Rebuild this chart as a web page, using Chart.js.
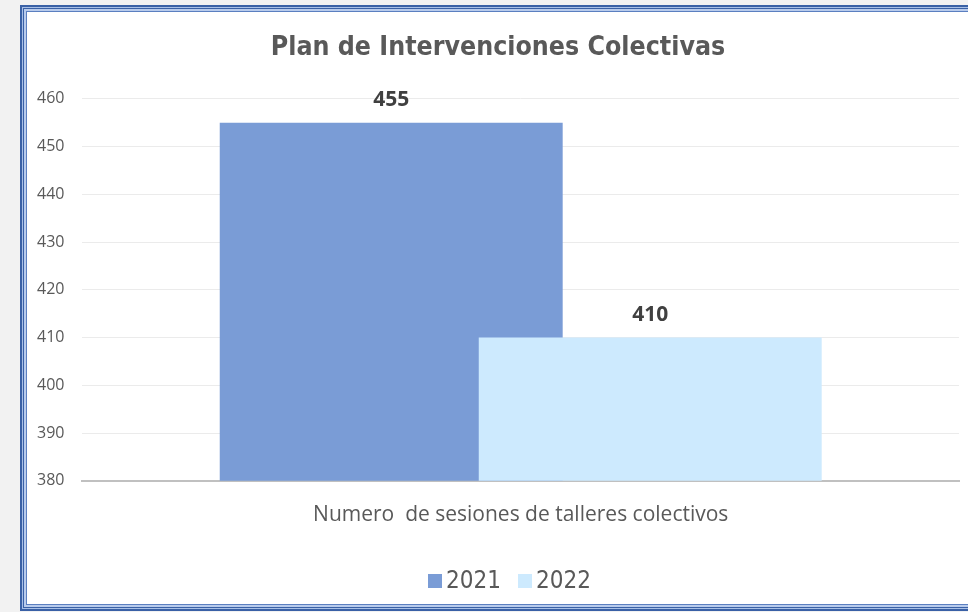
<!DOCTYPE html>
<html>
<head>
<meta charset="utf-8">
<script src="https://cdn.jsdelivr.net/npm/chart.js@4/dist/chart.umd.min.js"></script>
<style>
  html, body { margin: 0; padding: 0; background: #f2f2f2; }
  #wrap { position: relative; width: 968px; height: 612px; overflow: hidden; }
  #frame {
    position: absolute; left: 20px; top: 5px; width: 980px; height: 602px;
    background: #fff;
    border: 2px solid #3a61a6;
    box-shadow: inset 0 0 0 1px #a9c0e6, inset 0 0 0 2px #3a61a6,
                inset 0 0 0 4px #b8cbec, inset 0 0 0 5px #5b7fc0;
  }
  #chart { position: absolute; left: 0; top: 0; }
  #legend {
    position: absolute; left: 428px; top: 563px; height: 34px;
    display: flex; align-items: center;
    font-family: 'Liberation Sans Narrow', 'Arial Narrow', 'DejaVu Sans Condensed', sans-serif;
    font-size: 24px; color: #595959;
  }
  #legend .item { display: flex; align-items: center; margin-right: 17px; }
  #legend .box { width: 14px; height: 14px; margin-right: 4px; margin-top: 2px; }
</style>
</head>
<body>
<div id="wrap">
  <div id="frame"></div>
  <canvas id="chart" width="968" height="612"></canvas>
  <div id="legend"></div>
</div>
<script>
var categories = ['Numero  de sesiones de talleres colectivos'];
var years = ['2021', '2022'];
var sesiones2021 = [455];
var sesiones2022 = [410];
var yTicks = [380, 390, 400, 410, 420, 430, 440, 450, 460];
var colors = ['#7a9cd6', '#cdeafe'];

var textColor = '#595959';

// draw 2021 first so the 2022 bar sits on top where they overlap
var drawOrder = {
    id: 'drawOrder',
    beforeDatasetsDraw: function (chart) {
        var ctx = chart.ctx, a = chart.chartArea;
        ctx.save();
        ctx.beginPath();
        ctx.rect(a.left, a.top, a.right - a.left, a.bottom - a.top);
        ctx.clip();
        for (var i = 0; i < chart.data.datasets.length; i++) {
            chart.getDatasetMeta(i).controller.draw();
        }
        ctx.restore();
        return false;
    },
    afterDraw: function (chart) {
        var ctx = chart.ctx;
        ctx.save();
        ctx.font = 'bold 21px "Open Sans", sans-serif';
        ctx.fillStyle = '#404040';
        ctx.textAlign = 'center';
        ctx.textBaseline = 'middle';
        chart.data.datasets.forEach(function (ds, i) {
            chart.getDatasetMeta(i).data.forEach(function (bar, j) {
                ctx.fillText(ds.data[j], bar.x, bar.y - 23);
            });
        });
        ctx.restore();
    }
};

var ctx = document.getElementById('chart');

var chart = new Chart(ctx, {
    type: 'bar',
    data: {
        labels: categories,
        datasets: [{
            label: years[0],
            data: sesiones2021,
            backgroundColor: colors[0],
            borderWidth: 0
        }, {
            label: years[1],
            data: sesiones2022,
            backgroundColor: colors[1],
            borderWidth: 0
        }]
    },
    options: {
        responsive: false,
        animation: false,
        categoryPercentage: 0.591,
        barPercentage: 1.324,
        layout: { padding: { left: 37, right: 9, top: 0, bottom: 62 } },
        plugins: {
            legend: { display: false },
            tooltip: { enabled: false },
            title: {
                display: true,
                text: 'Plan de Intervenciones Colectivas',
                color: textColor,
                font: { family: "'Liberation Sans Narrow', 'Arial Narrow', 'DejaVu Sans Condensed', sans-serif", size: 26.5, weight: 'bold', lineHeight: 1.2 },
                padding: { top: 32, bottom: 35 }
            }
        },
        scales: {
            x: {
                grid: { display: false, drawTicks: false },
                border: { color: '#c0c0c0', width: 2 },
                ticks: {
                    color: textColor,
                    padding: 22,
                    font: { family: "'Open Sans', sans-serif", size: 21 }
                }
            },
            y: {
                min: yTicks[0],
                max: yTicks[yTicks.length - 1],
                grid: { color: '#ebebeb', drawTicks: false },
                border: { display: false },
                afterBuildTicks: function (axis) {
                    axis.ticks = yTicks.map(function (v) { return { value: v }; });
                },
                ticks: {
                    color: textColor,
                    padding: 9,
                    crossAlign: 'far',
                    font: { family: "'Open Sans', sans-serif", size: 16 }
                }
            }
        }
    },
    plugins: [drawOrder]
});

// legend built from the datasets
var legend = document.getElementById('legend');
chart.data.datasets.forEach(function (ds) {
    var item = document.createElement('div');
    item.className = 'item';
    var box = document.createElement('span');
    box.className = 'box';
    box.style.background = ds.backgroundColor;
    var txt = document.createElement('span');
    txt.textContent = ds.label;
    item.appendChild(box);
    item.appendChild(txt);
    legend.appendChild(item);
});
</script>
</body>
</html>
